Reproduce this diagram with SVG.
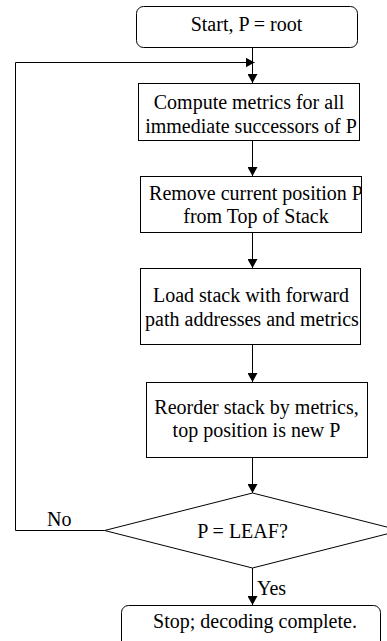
<svg xmlns="http://www.w3.org/2000/svg" width="387" height="641" viewBox="0 0 387 641">
  <defs>
    <marker id="arrow" markerUnits="userSpaceOnUse" markerWidth="10" markerHeight="10" refX="9" refY="5" orient="auto">
      <path d="M0,0 L9,5 L0,10 z" fill="#000"/>
    </marker>
    <clipPath id="clip-remove">
      <rect x="140.5" y="176.5" width="221" height="56"/>
    </clipPath>
  </defs>
  <style>
    .box { fill: #fff; stroke: #000; stroke-width: 1; }
    .lbl { font-family: "Liberation Serif", "Times New Roman", serif; font-size: 20px; fill: #000; text-anchor: middle; }
    .side { font-family: "Liberation Serif", "Times New Roman", serif; font-size: 20px; fill: #000; }
    .edge { fill: none; stroke: #000; stroke-width: 1; }
  </style>
  <rect width="387" height="641" fill="#fff"/>

  <g id="connectors">
    <path class="edge" d="M252.5,47 V83" marker-end="url(#arrow)"/>
    <path class="edge" d="M252.5,140 V176" marker-end="url(#arrow)"/>
    <path class="edge" d="M252.5,232 V268" marker-end="url(#arrow)"/>
    <path class="edge" d="M252.5,344 V382" marker-end="url(#arrow)"/>
    <path class="edge" d="M252.5,457 V493" marker-end="url(#arrow)"/>
    <path class="edge" d="M252.5,568 V605" marker-end="url(#arrow)"/>
    <path class="edge" d="M104.5,530.5 H15.5 V62.5 H254.5" marker-end="url(#arrow)"/>
    <text class="side" x="47" y="526">No</text>
    <text class="side" x="257" y="595">Yes</text>
  </g>

  <g id="start">
    <rect class="box" x="136.5" y="6.5" width="221" height="41" rx="7"/>
    <text class="lbl" x="246.5" y="31">Start, P = root</text>
  </g>

  <g id="compute">
    <rect class="box" x="138.5" y="83.5" width="221" height="57"/>
    <text class="lbl" x="249" y="109">Compute metrics for all</text>
    <text class="lbl" x="251" y="133">immediate successors of P</text>
  </g>

  <g id="remove">
    <rect class="box" x="140.5" y="176.5" width="221" height="56"/>
    <g clip-path="url(#clip-remove)">
      <text class="lbl" x="256" y="200">Remove current position P</text>
      <text class="lbl" x="256" y="223">from Top of Stack</text>
    </g>
  </g>

  <g id="load">
    <rect class="box" x="140.5" y="268.5" width="220" height="76"/>
    <text class="lbl" x="251" y="302">Load stack with forward</text>
    <text class="lbl" x="252" y="326">path addresses and metrics</text>
  </g>

  <g id="reorder">
    <rect class="box" x="146.5" y="382.5" width="221" height="75"/>
    <text class="lbl" x="256.5" y="414">Reorder stack by metrics,</text>
    <text class="lbl" x="256.5" y="437">top position is new P</text>
  </g>

  <g id="leaf-test">
    <polygon class="box" points="252.5,493 400.5,530.5 252.5,568 104.5,530.5"/>
    <text class="lbl" x="242.5" y="538">P = LEAF?</text>
  </g>

  <g id="stop">
    <rect class="box" x="121.5" y="605.5" width="259" height="50" rx="7"/>
    <text class="lbl" x="255" y="628">Stop; decoding complete.</text>
  </g>
</svg>
